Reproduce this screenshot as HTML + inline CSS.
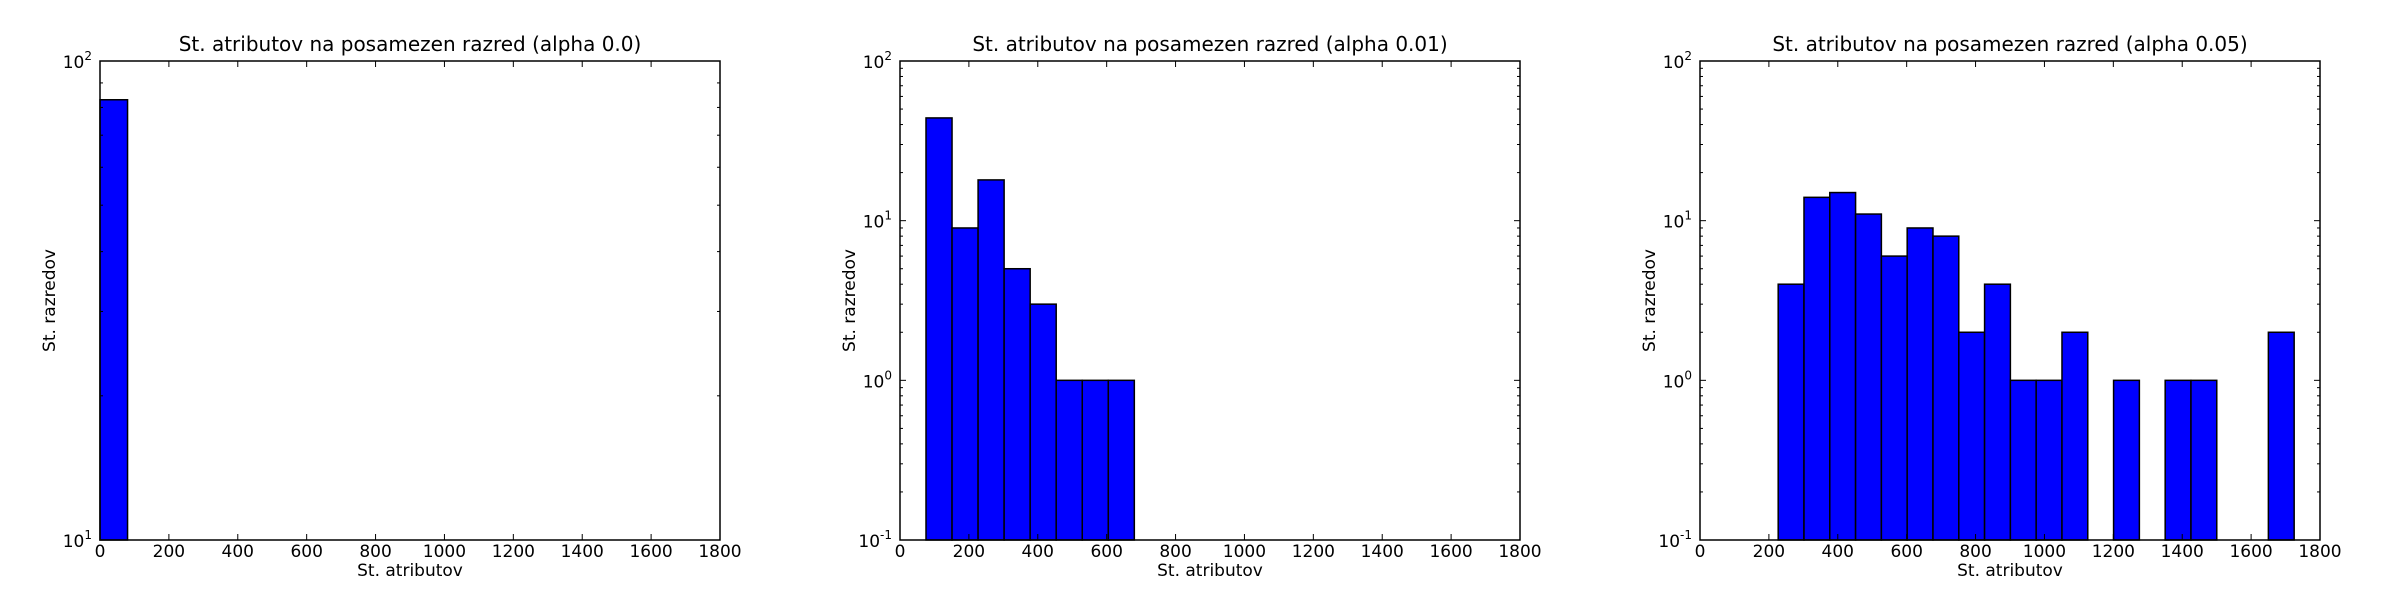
<!DOCTYPE html>
<html><head><meta charset="utf-8">
<style>
html,body{margin:0;padding:0;background:#fff;}
svg{display:block;font-family:"DejaVu Sans","Liberation Sans",sans-serif;}
</style></head>
<body>
<svg id="chart" width="2400" height="600" viewBox="0 0 2400 600"></svg>
<script>
// Data
const titles = ["St. atributov na posamezen razred (alpha 0.0)","St. atributov na posamezen razred (alpha 0.01)","St. atributov na posamezen razred (alpha 0.05)"];
const binStart1 = [0];
const binWidth1 = [80];
const counts1 = [83];
const binStart2 = [75.5];
const binWidth2 = [75.6];
const counts2 = [44, 9, 18, 5, 3, 1, 1, 1];
const binStart3 = [227];
const binWidth3 = [74.9];
const counts3 = [4, 14, 15, 11, 6, 9, 8, 2, 4, 1, 1, 2, 0, 1, 0, 1, 1, 0, 0, 2];
const yMinExp = [1, -1, -1];
const yMaxExp = [2, 2, 2];
const xTicks = [0, 200, 400, 600, 800, 1000, 1200, 1400, 1600, 1800];

const NS = "http://www.w3.org/2000/svg";
const svg = document.getElementById("chart");
function mk(tag, attrs, parent){const e=document.createElementNS(NS,tag);for(const k in attrs)e.setAttribute(k,attrs[k]);(parent||svg).appendChild(e);return e;}

const panels = [
 {left:100, starts:binStart1, widths:binWidth1, counts:counts1},
 {left:900, starts:binStart2, widths:binWidth2, counts:counts2},
 {left:1700, starts:binStart3, widths:binWidth3, counts:counts3}
];
const W=620, axTop=61, axBottom=540, H=axBottom-axTop;

panels.forEach((p,i)=>{
  const g = mk("g",{});
  
  
  const lo=yMinExp[i], hi=yMaxExp[i];
  const xs = v => p.left + v/1800*W;
  const ys = v => axBottom - (Math.log10(v)-lo)/(hi-lo)*H;
  p.counts.forEach((c,j)=>{
    if(c<=0) return;
    const x0 = xs(p.starts[0] + j*p.widths[0]);
    const x1 = xs(p.starts[0] + (j+1)*p.widths[0]);
    const r = mk("rect",{x:x0,y:ys(c),width:x1-x0,height:axBottom-ys(c),fill:"#0000ff",stroke:"#000","stroke-width":1.5},g);
    
    
  });
  const fr = mk("rect",{x:p.left,y:axTop,width:W,height:H,fill:"none",stroke:"#000","stroke-width":1.5},g);
  
  
  xTicks.forEach(t=>{
    const x=xs(t);
    mk("line",{x1:x,y1:axBottom,x2:x,y2:axBottom-6,stroke:"#000","stroke-width":1},g);
    mk("line",{x1:x,y1:axTop,x2:x,y2:axTop+6,stroke:"#000","stroke-width":1},g);
    const tx = mk("text",{x:x,y:axBottom+17,"text-anchor":"middle","font-size":17},g);
    tx.textContent=t;
    
    
  });
  for(let e=lo;e<=hi;e++){
    const y=ys(Math.pow(10,e));
    mk("line",{x1:p.left,y1:y,x2:p.left+6,y2:y,stroke:"#000"},g);
    mk("line",{x1:p.left+W,y1:y,x2:p.left+W-6,y2:y,stroke:"#000"},g);
    const tx = mk("text",{x:p.left-8,y:y+7,"text-anchor":"end","font-size":17},g);
    tx.innerHTML = '10<tspan dy="-8" font-size="12">'+e+'</tspan>';
    
    
    if(e<hi){
      for(let m=2;m<=9;m++){
        const ym=ys(m*Math.pow(10,e));
        mk("line",{x1:p.left,y1:ym,x2:p.left+3,y2:ym,stroke:"#000"},g);
        mk("line",{x1:p.left+W,y1:ym,x2:p.left+W-3,y2:ym,stroke:"#000"},g);
      }
    }
  }
  const ti = mk("text",{x:p.left+W/2,y:axTop-10,"text-anchor":"middle","font-size":20},g);
  ti.textContent=titles[i];
  
  
  const xl = mk("text",{x:p.left+W/2,y:axBottom+36,"text-anchor":"middle","font-size":17},g);
  xl.textContent="St. atributov";
  
  
  const yl = mk("text",{x:0,y:0,"text-anchor":"middle","font-size":17,transform:`translate(${p.left-45},${(axTop+axBottom)/2}) rotate(-90)`},g);
  yl.textContent="St. razredov";
  
  
});
</script>
</body></html>
